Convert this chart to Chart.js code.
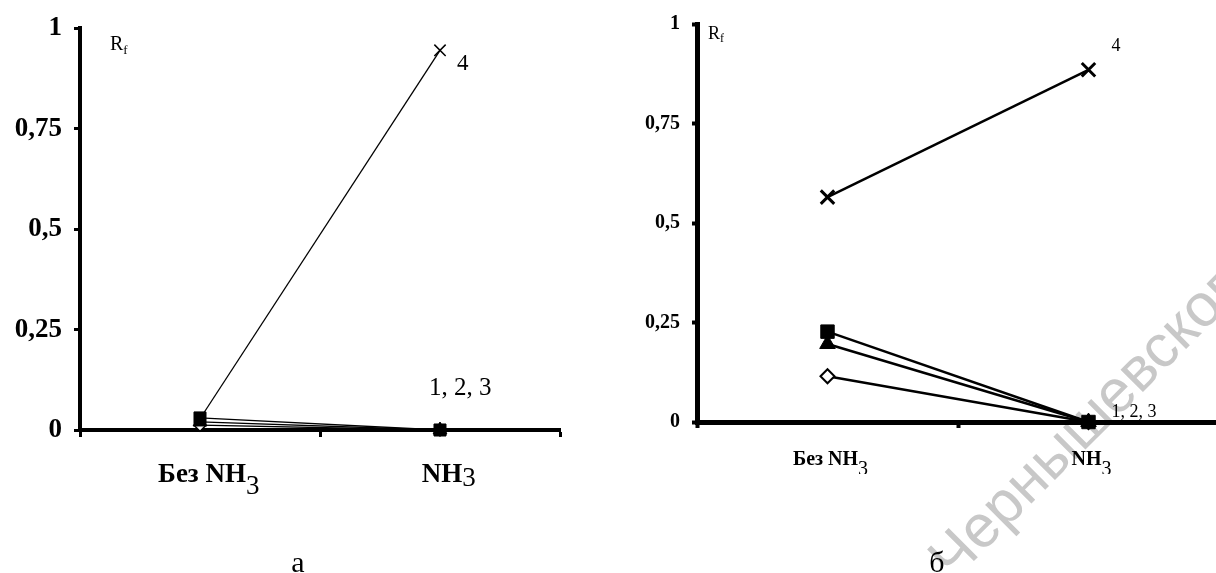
<!DOCTYPE html>
<html>
<head>
<meta charset="utf-8">
<script src="https://cdn.jsdelivr.net/npm/chart.js@4/dist/chart.umd.min.js"></script>
<style>
html, body { margin: 0; padding: 0; background: #fff; overflow: hidden; width: 1216px; height: 573px; }
#wrapA { position: absolute; left: 0; top: 0; width: 600px; height: 573px; }
#wrapB { position: absolute; left: 600px; top: 0; width: 640px; height: 573px; }
</style>
</head>
<body>
<div id="wrapA"><canvas id="chartA"></canvas></div>
<div id="wrapB"><canvas id="chartB"></canvas></div>
<script>
// ---- data ----
const categories = ['Без NH₃', 'NH₃'];
const yTickValues = [0, 0.25, 0.5, 0.75, 1];
const yTickLabels = ['0', '0,25', '0,5', '0,75', '1'];
const seriesNames = ['1', '2', '3', '4'];
const groupLabel = '1, 2, 3';
const topLabel = '4';
const axisTitle = 'R';
const axisTitleSub = 'f';
const panelCaptions = ['а', 'б'];
const watermarkText = 'Чернышевского';

// panel а
const panelA_series1 = [0.012, 0];
const panelA_series2 = [0.030, 0];
const panelA_series3 = [0.020, 0];
const panelA_series4 = [0.028, 0.945];
// panel б
const panelB_series1 = [0.115, 0];
const panelB_series2 = [0.227, 0];
const panelB_series3 = [0.196, 0];
const panelB_series4 = [0.565, 0.885];

// ---- helpers ----
const SERIF = '"Liberation Serif", "Times New Roman", serif';
function splitSub(label) {
  const m = label.match(/[\u2080-\u2089]+$/);
  if (!m) return { main: label, sub: '' };
  const sub = m[0].split('').map(c => String.fromCharCode(c.charCodeAt(0) - 0x2080 + 48)).join('');
  return { main: label.slice(0, label.length - m[0].length), sub };
}

const annotPlugin = {
  id: 'annot',
  beforeDraw(chart, args, o) {
    const w = o.watermark;
    if (!w) return;
    const ctx = chart.ctx;
    ctx.save();
    ctx.translate(w.x, w.y);
    ctx.rotate(w.angle * Math.PI / 180);
    ctx.font = w.size + 'px "Liberation Sans", Arial, sans-serif';
    ctx.fillStyle = w.color;
    ctx.textAlign = 'left';
    ctx.textBaseline = 'alphabetic';
    ctx.fillText(w.text, 0, 0);
    ctx.restore();
  },
  afterDraw(chart, args, o) {
    const ctx = chart.ctx;
    const area = chart.chartArea;
    ctx.save();
    ctx.fillStyle = '#000';
    ctx.textBaseline = 'alphabetic';
    ctx.textAlign = 'left';

    // axis title R_f
    const rf = o.rf;
    ctx.font = rf.size + 'px ' + SERIF;
    const rx = area.left + rf.dx, ry = area.top + rf.dy;
    ctx.fillText(axisTitle, rx, ry);
    const rw = ctx.measureText(axisTitle).width;
    ctx.font = rf.subSize + 'px ' + SERIF;
    ctx.fillText(axisTitleSub, rx + rw, ry + rf.subDy);

    // category labels with subscript
    const c = o.cat;
    const xScale = chart.scales.x;
    if (c.clipBottom) {
      ctx.save();
      ctx.beginPath();
      ctx.rect(0, 0, chart.width, c.clipBottom);
      ctx.clip();
    }
    categories.forEach((lab, i) => {
      const parts = splitSub(lab);
      const px = xScale.getPixelForValue(i) + c.dx;
      const py = area.bottom + c.dy;
      ctx.font = 'bold ' + c.size + 'px ' + SERIF;
      const mw = ctx.measureText(parts.main).width;
      ctx.fillText(parts.main, px - mw / 2, py);
      ctx.font = c.subSize + 'px ' + SERIF;
      ctx.fillText(parts.sub, px + mw / 2, py + c.subDy[i]);
    });
    if (c.clipBottom) ctx.restore();

    // series labels
    const p4 = chart.getDatasetMeta(3).data[1];
    ctx.font = o.lab4.size + 'px ' + SERIF;
    ctx.fillText(topLabel, p4.x + o.lab4.dx, p4.y + o.lab4.dy);
    const p1 = chart.getDatasetMeta(0).data[1];
    ctx.font = o.lab123.size + 'px ' + SERIF;
    ctx.fillText(groupLabel, p1.x + o.lab123.dx, p1.y + o.lab123.dy);

    // panel caption
    const cap = o.caption;
    ctx.font = cap.size + 'px ' + SERIF;
    ctx.textAlign = 'center';
    ctx.fillText(cap.text, cap.x, cap.y);
    ctx.restore();
  }
};

const markerStyles = ['rectRot', 'rect', 'triangle', 'crossRot'];
const drawOrder = [2, 0, 1, 3];

function makeChart(id, series, st) {
  const datasets = series.map((data, i) => ({
    label: seriesNames[i],
    data: data,
    borderColor: '#000',
    borderWidth: st.lineWidth,
    pointStyle: markerStyles[i],
    pointRadius: st.radius[i],
    pointBorderWidth: st.pointBorder[i],
    pointBackgroundColor: i === 0 ? '#fff' : '#000',
    pointBorderColor: '#000',
    tension: 0,
    fill: false,
    clip: false,
    order: drawOrder[i]
  }));
  return new Chart(document.getElementById(id), {
    type: 'line',
    data: { labels: categories, datasets },
    plugins: [annotPlugin],
    options: {
      responsive: true,
      maintainAspectRatio: false,
      animation: false,
      events: [],
      layout: { padding: { top: st.padTop, right: st.padRight, left: 0, bottom: 0 } },
      plugins: {
        legend: { display: false },
        tooltip: { enabled: false },
        annot: st.annot
      },
      scales: {
        x: {
          type: 'category',
          offset: true,
          grid: {
            offset: true, drawOnChartArea: false, drawTicks: true,
            tickLength: st.xTickLen, tickWidth: st.tickWidth, tickColor: '#000', color: '#000'
          },
          border: { display: true, color: '#000', width: st.axisWidth },
          ticks: { display: false },
          afterFit: s => { s.height = st.xHeight; }
        },
        y: {
          type: 'linear',
          min: 0, max: 1,
          afterBuildTicks: s => { s.ticks = yTickValues.map(v => ({ value: v })); },
          grid: {
            drawOnChartArea: false, drawTicks: true,
            tickLength: st.yTickLen, tickWidth: st.tickWidth, tickColor: '#000', color: '#000'
          },
          border: { display: true, color: '#000', width: st.axisWidth },
          ticks: {
            color: '#000',
            padding: st.yPad,
            font: { family: SERIF, size: st.yFont, weight: 'bold' },
            callback: v => yTickLabels[yTickValues.indexOf(v)]
          },
          afterFit: s => { s.width = st.yWidth; }
        }
      }
    }
  });
}

makeChart('chartA', [panelA_series1, panelA_series2, panelA_series3, panelA_series4], {
  lineWidth: 1.3,
  radius: [6, 8.5, 8, 8],
  pointBorder: [1.5, 1, 1, 1.5],
  padTop: 26, padRight: 40,
  xHeight: 143, yWidth: 80,
  xTickLen: 7, yTickLen: 6, tickWidth: 3, axisWidth: 4,
  yPad: 12, yFont: 27,
  annot: {
    rf: { dx: 30, dy: 22, size: 20, subSize: 13, subDy: 4 },
    cat: { dx: 2, dy: 52, size: 27, subSize: 27, subDy: [12, 4], clipBottom: null },
    lab4: { dx: 17, dy: 20, size: 23 },
    lab123: { dx: -11, dy: -35, size: 25 },
    caption: { x: 298, y: 572, size: 30, text: panelCaptions[0] },
    watermark: null
  }
});

makeChart('chartB', [panelB_series1, panelB_series2, panelB_series3, panelB_series4], {
  lineWidth: 2.5,
  radius: [7, 9.5, 9, 9.5],
  pointBorder: [2, 1, 1, 3],
  padTop: 22, padRight: 21,
  xHeight: 151, yWidth: 97,
  xTickLen: 6, yTickLen: 5, tickWidth: 4, axisWidth: 5,
  yPad: 12, yFont: 20,
  annot: {
    rf: { dx: 11, dy: 15, size: 18, subSize: 12, subDy: 3 },
    cat: { dx: -2, dy: 43, size: 20, subSize: 20, subDy: [10, 10], clipBottom: 474 },
    lab4: { dx: 23, dy: -19, size: 18 },
    lab123: { dx: 23, dy: -5, size: 18 },
    caption: { x: 337, y: 572, size: 30, text: panelCaptions[1] },
    watermark: { text: watermarkText, x: 353, y: 582, angle: -45, size: 60, color: '#c8c8c8' }
  }
});
</script>
</body>
</html>
